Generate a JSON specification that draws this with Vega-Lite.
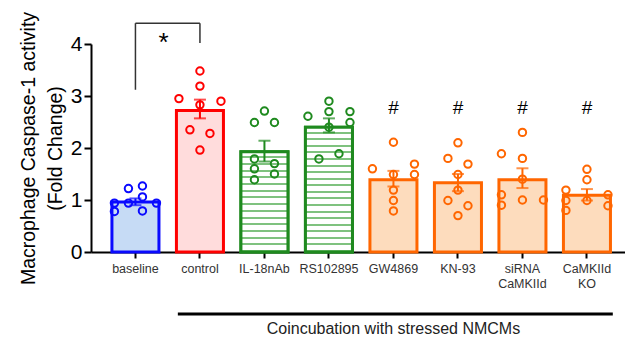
{
  "$schema": "https://vega.github.io/schema/vega-lite/v6.json",
  "width": 534,
  "height": 208,
  "autosize": {"type": "none"},
  "padding": {"left": 91, "top": 44, "right": 0, "bottom": 88},
  "config": {"font": "Liberation Sans", "view": {"stroke": null}},
  "datasets": {
    "bars": [
      {"g": "baseline", "set": "baseline", "mean": 0.96, "lo": 0.90, "hi": 1.03},
      {"g": "control", "set": "control", "mean": 2.72, "lo": 2.57, "hi": 2.93},
      {"g": "IL-18nAb", "set": "antagonist", "mean": 1.93, "lo": 1.74, "hi": 2.14},
      {"g": "RS102895", "set": "antagonist", "mean": 2.40, "lo": 2.30, "hi": 2.57},
      {"g": "GW4869", "set": "inhibitor", "mean": 1.39, "lo": 1.26, "hi": 1.56},
      {"g": "KN-93", "set": "inhibitor", "mean": 1.33, "lo": 1.17, "hi": 1.50},
      {"g": "siRNA|CaMKIId", "set": "inhibitor", "mean": 1.39, "lo": 1.23, "hi": 1.61},
      {"g": "CaMKIId|KO", "set": "inhibitor", "mean": 1.09, "lo": 0.99, "hi": 1.21}
    ],
    "pts": [
      {"g": "baseline", "set": "baseline", "v": 0.94, "dx": -21},
      {"g": "baseline", "set": "baseline", "v": 0.78, "dx": -21},
      {"g": "baseline", "set": "baseline", "v": 0.94, "dx": -7},
      {"g": "baseline", "set": "baseline", "v": 1.22, "dx": -7},
      {"g": "baseline", "set": "baseline", "v": 1.27, "dx": 7},
      {"g": "baseline", "set": "baseline", "v": 1.06, "dx": 7},
      {"g": "baseline", "set": "baseline", "v": 0.79, "dx": 7},
      {"g": "baseline", "set": "baseline", "v": 0.94, "dx": 21},
      {"g": "control", "set": "control", "v": 3.48, "dx": 0},
      {"g": "control", "set": "control", "v": 3.19, "dx": 0},
      {"g": "control", "set": "control", "v": 2.95, "dx": -21},
      {"g": "control", "set": "control", "v": 2.90, "dx": 21},
      {"g": "control", "set": "control", "v": 2.83, "dx": 0},
      {"g": "control", "set": "control", "v": 2.35, "dx": -10},
      {"g": "control", "set": "control", "v": 2.28, "dx": 10},
      {"g": "control", "set": "control", "v": 1.96, "dx": 0},
      {"g": "IL-18nAb", "set": "antagonist", "v": 2.71, "dx": 0},
      {"g": "IL-18nAb", "set": "antagonist", "v": 2.49, "dx": -10},
      {"g": "IL-18nAb", "set": "antagonist", "v": 2.49, "dx": 10},
      {"g": "IL-18nAb", "set": "antagonist", "v": 1.79, "dx": -10},
      {"g": "IL-18nAb", "set": "antagonist", "v": 1.70, "dx": 10},
      {"g": "IL-18nAb", "set": "antagonist", "v": 1.60, "dx": -10},
      {"g": "IL-18nAb", "set": "antagonist", "v": 1.50, "dx": 10},
      {"g": "IL-18nAb", "set": "antagonist", "v": 1.39, "dx": -10},
      {"g": "RS102895", "set": "antagonist", "v": 2.61, "dx": -21},
      {"g": "RS102895", "set": "antagonist", "v": 2.90, "dx": 0},
      {"g": "RS102895", "set": "antagonist", "v": 2.70, "dx": 0},
      {"g": "RS102895", "set": "antagonist", "v": 2.40, "dx": 0},
      {"g": "RS102895", "set": "antagonist", "v": 2.70, "dx": 21},
      {"g": "RS102895", "set": "antagonist", "v": 2.49, "dx": 21},
      {"g": "RS102895", "set": "antagonist", "v": 1.79, "dx": -10},
      {"g": "RS102895", "set": "antagonist", "v": 1.89, "dx": 10},
      {"g": "GW4869", "set": "inhibitor", "v": 2.11, "dx": 0},
      {"g": "GW4869", "set": "inhibitor", "v": 1.60, "dx": -21},
      {"g": "GW4869", "set": "inhibitor", "v": 1.69, "dx": 21},
      {"g": "GW4869", "set": "inhibitor", "v": 1.49, "dx": 21},
      {"g": "GW4869", "set": "inhibitor", "v": 1.49, "dx": 0},
      {"g": "GW4869", "set": "inhibitor", "v": 1.19, "dx": 0},
      {"g": "GW4869", "set": "inhibitor", "v": 0.99, "dx": 0},
      {"g": "GW4869", "set": "inhibitor", "v": 0.79, "dx": 0},
      {"g": "KN-93", "set": "inhibitor", "v": 2.10, "dx": 0},
      {"g": "KN-93", "set": "inhibitor", "v": 1.80, "dx": -10},
      {"g": "KN-93", "set": "inhibitor", "v": 1.69, "dx": 10},
      {"g": "KN-93", "set": "inhibitor", "v": 1.49, "dx": 0},
      {"g": "KN-93", "set": "inhibitor", "v": 1.19, "dx": 0},
      {"g": "KN-93", "set": "inhibitor", "v": 0.99, "dx": -10},
      {"g": "KN-93", "set": "inhibitor", "v": 0.89, "dx": 10},
      {"g": "KN-93", "set": "inhibitor", "v": 0.70, "dx": 0},
      {"g": "siRNA|CaMKIId", "set": "inhibitor", "v": 2.30, "dx": 0},
      {"g": "siRNA|CaMKIId", "set": "inhibitor", "v": 1.89, "dx": -21},
      {"g": "siRNA|CaMKIId", "set": "inhibitor", "v": 1.80, "dx": 0},
      {"g": "siRNA|CaMKIId", "set": "inhibitor", "v": 1.40, "dx": 0},
      {"g": "siRNA|CaMKIId", "set": "inhibitor", "v": 1.10, "dx": -21},
      {"g": "siRNA|CaMKIId", "set": "inhibitor", "v": 0.90, "dx": -21},
      {"g": "siRNA|CaMKIId", "set": "inhibitor", "v": 1.00, "dx": 0},
      {"g": "siRNA|CaMKIId", "set": "inhibitor", "v": 1.00, "dx": 21},
      {"g": "CaMKIId|KO", "set": "inhibitor", "v": 1.59, "dx": 0},
      {"g": "CaMKIId|KO", "set": "inhibitor", "v": 1.39, "dx": 0},
      {"g": "CaMKIId|KO", "set": "inhibitor", "v": 1.19, "dx": -21},
      {"g": "CaMKIId|KO", "set": "inhibitor", "v": 0.99, "dx": -21},
      {"g": "CaMKIId|KO", "set": "inhibitor", "v": 0.80, "dx": -21},
      {"g": "CaMKIId|KO", "set": "inhibitor", "v": 0.99, "dx": 0},
      {"g": "CaMKIId|KO", "set": "inhibitor", "v": 1.10, "dx": 21},
      {"g": "CaMKIId|KO", "set": "inhibitor", "v": 0.89, "dx": 21}
    ],
    "hash": [
      {"g": "GW4869", "y": 2.65, "t": "#"},
      {"g": "KN-93", "y": 2.65, "t": "#"},
      {"g": "siRNA|CaMKIId", "y": 2.65, "t": "#"},
      {"g": "CaMKIId|KO", "y": 2.65, "t": "#"}
    ],
    "bracket": [
      {"a": "baseline", "b": "baseline", "y": 3.12, "y2": 4.40},
      {"a": "baseline", "b": "control", "y": 4.40, "y2": 4.40},
      {"a": "control", "b": "control", "y": 4.02, "y2": 4.40}
    ],
    "star": [{"g": "baseline", "y": 3.87, "t": "*"}],
    "under": [{"a": "control", "b": "CaMKIId|KO", "y": -1.19}],
    "underText": [{"g": "GW4869", "y": -1.48, "t": "Coincubation with stressed NMCMs"}]
  },
  "layer": [
    {
      "data": {"name": "bars"},
      "mark": {"type": "bar", "strokeWidth": 3},
      "encoding": {
        "x": {
          "field": "g", "type": "nominal",
          "scale": {
            "type": "band",
            "domain": ["baseline", "control", "IL-18nAb", "RS102895", "GW4869", "KN-93", "siRNA|CaMKIId", "CaMKIId|KO"],
            "paddingInner": 0.271, "paddingOuter": 0.275, "align": 0.59
          },
          "axis": {
            "title": null, "labelAngle": 0, "labelFontSize": 12.5, "labelColor": "#333333",
            "labelExpr": "split(datum.label, '|')", "labelPadding": 4, "labelLineHeight": 15,
            "tickSize": 6, "tickWidth": 2, "tickColor": "#000000",
            "domainWidth": 2, "domainColor": "#000000", "labelBaseline": "top"
          }
        },
        "y": {
          "field": "mean", "type": "quantitative",
          "scale": {"domain": [0, 4], "nice": false, "zero": true},
          "axis": {
            "title": ["Macrophage Caspase-1 activity", "(Fold Change)"],
            "titleFontSize": 19.5, "titleFontWeight": "normal", "titleColor": "#000000",
            "titleLineHeight": 27, "titlePadding": 5,
            "values": [0, 1, 2, 3, 4], "format": "d", "grid": false,
            "labelFontSize": 21, "labelColor": "#000000", "labelPadding": 2,
            "tickSize": 7, "tickWidth": 2, "tickColor": "#000000",
            "domainWidth": 2, "domainColor": "#000000"
          }
        },
        "fill": {
          "field": "set", "type": "nominal", "legend": null,
          "scale": {"domain": ["baseline", "control", "antagonist", "inhibitor"], "range": ["#c6dbf5", "#ffdcdc", "#ffffff", "#fddcbd"]}
        },
        "stroke": {
          "field": "set", "type": "nominal", "legend": null,
          "scale": {"domain": ["baseline", "control", "antagonist", "inhibitor"], "range": ["#0a0aff", "#ff0000", "#1f8a1f", "#ff6600"]}
        }
      }
    },
    {
      "data": {"name": "bars"},
      "transform": [{"filter": "datum.g === 'IL-18nAb'"}],
      "mark": {
        "type": "bar", "strokeWidth": 3, "stroke": "#1f8a1f",
        "fill": {
          "gradient": "linear", "x1": 0, "y1": 0, "x2": 0, "y2": 1,
          "stops": [
            {"offset": 0, "color": "#ffffff"}, {"offset": 0.0467, "color": "#ffffff"}, {"offset": 0.0467, "color": "#7fc27f"}, {"offset": 0.0667, "color": "#7fc27f"},
            {"offset": 0.0667, "color": "#ffffff"}, {"offset": 0.1133, "color": "#ffffff"}, {"offset": 0.1133, "color": "#7fc27f"}, {"offset": 0.1333, "color": "#7fc27f"},
            {"offset": 0.1333, "color": "#ffffff"}, {"offset": 0.18, "color": "#ffffff"}, {"offset": 0.18, "color": "#7fc27f"}, {"offset": 0.2, "color": "#7fc27f"},
            {"offset": 0.2, "color": "#ffffff"}, {"offset": 0.2467, "color": "#ffffff"}, {"offset": 0.2467, "color": "#7fc27f"}, {"offset": 0.2667, "color": "#7fc27f"},
            {"offset": 0.2667, "color": "#ffffff"}, {"offset": 0.3133, "color": "#ffffff"}, {"offset": 0.3133, "color": "#7fc27f"}, {"offset": 0.3333, "color": "#7fc27f"},
            {"offset": 0.3333, "color": "#ffffff"}, {"offset": 0.38, "color": "#ffffff"}, {"offset": 0.38, "color": "#7fc27f"}, {"offset": 0.4, "color": "#7fc27f"},
            {"offset": 0.4, "color": "#ffffff"}, {"offset": 0.4467, "color": "#ffffff"}, {"offset": 0.4467, "color": "#7fc27f"}, {"offset": 0.4667, "color": "#7fc27f"},
            {"offset": 0.4667, "color": "#ffffff"}, {"offset": 0.5133, "color": "#ffffff"}, {"offset": 0.5133, "color": "#7fc27f"}, {"offset": 0.5333, "color": "#7fc27f"},
            {"offset": 0.5333, "color": "#ffffff"}, {"offset": 0.58, "color": "#ffffff"}, {"offset": 0.58, "color": "#7fc27f"}, {"offset": 0.6, "color": "#7fc27f"},
            {"offset": 0.6, "color": "#ffffff"}, {"offset": 0.6467, "color": "#ffffff"}, {"offset": 0.6467, "color": "#7fc27f"}, {"offset": 0.6667, "color": "#7fc27f"},
            {"offset": 0.6667, "color": "#ffffff"}, {"offset": 0.7133, "color": "#ffffff"}, {"offset": 0.7133, "color": "#7fc27f"}, {"offset": 0.7333, "color": "#7fc27f"},
            {"offset": 0.7333, "color": "#ffffff"}, {"offset": 0.78, "color": "#ffffff"}, {"offset": 0.78, "color": "#7fc27f"}, {"offset": 0.8, "color": "#7fc27f"},
            {"offset": 0.8, "color": "#ffffff"}, {"offset": 0.8467, "color": "#ffffff"}, {"offset": 0.8467, "color": "#7fc27f"}, {"offset": 0.8667, "color": "#7fc27f"},
            {"offset": 0.8667, "color": "#ffffff"}, {"offset": 0.9133, "color": "#ffffff"}, {"offset": 0.9133, "color": "#7fc27f"}, {"offset": 0.9333, "color": "#7fc27f"},
            {"offset": 0.9333, "color": "#ffffff"}, {"offset": 0.98, "color": "#ffffff"}, {"offset": 0.98, "color": "#7fc27f"}, {"offset": 1, "color": "#7fc27f"}
          ]
        }
      },
      "encoding": {
        "x": {"field": "g", "type": "nominal"},
        "y": {"field": "mean", "type": "quantitative"}
      }
    },
    {
      "data": {"name": "bars"},
      "transform": [{"filter": "datum.g === 'RS102895'"}],
      "mark": {
        "type": "bar", "strokeWidth": 3, "stroke": "#1f8a1f",
        "fill": {
          "gradient": "linear", "x1": 0, "y1": 0, "x2": 0, "y2": 1,
          "stops": [
            {"offset": 0, "color": "#ffffff"}, {"offset": 0.0368, "color": "#ffffff"}, {"offset": 0.0368, "color": "#7fc27f"}, {"offset": 0.0526, "color": "#7fc27f"},
            {"offset": 0.0526, "color": "#ffffff"}, {"offset": 0.0895, "color": "#ffffff"}, {"offset": 0.0895, "color": "#7fc27f"}, {"offset": 0.1053, "color": "#7fc27f"},
            {"offset": 0.1053, "color": "#ffffff"}, {"offset": 0.1421, "color": "#ffffff"}, {"offset": 0.1421, "color": "#7fc27f"}, {"offset": 0.1579, "color": "#7fc27f"},
            {"offset": 0.1579, "color": "#ffffff"}, {"offset": 0.1947, "color": "#ffffff"}, {"offset": 0.1947, "color": "#7fc27f"}, {"offset": 0.2105, "color": "#7fc27f"},
            {"offset": 0.2105, "color": "#ffffff"}, {"offset": 0.2474, "color": "#ffffff"}, {"offset": 0.2474, "color": "#7fc27f"}, {"offset": 0.2632, "color": "#7fc27f"},
            {"offset": 0.2632, "color": "#ffffff"}, {"offset": 0.3, "color": "#ffffff"}, {"offset": 0.3, "color": "#7fc27f"}, {"offset": 0.3158, "color": "#7fc27f"},
            {"offset": 0.3158, "color": "#ffffff"}, {"offset": 0.3526, "color": "#ffffff"}, {"offset": 0.3526, "color": "#7fc27f"}, {"offset": 0.3684, "color": "#7fc27f"},
            {"offset": 0.3684, "color": "#ffffff"}, {"offset": 0.4053, "color": "#ffffff"}, {"offset": 0.4053, "color": "#7fc27f"}, {"offset": 0.4211, "color": "#7fc27f"},
            {"offset": 0.4211, "color": "#ffffff"}, {"offset": 0.4579, "color": "#ffffff"}, {"offset": 0.4579, "color": "#7fc27f"}, {"offset": 0.4737, "color": "#7fc27f"},
            {"offset": 0.4737, "color": "#ffffff"}, {"offset": 0.5105, "color": "#ffffff"}, {"offset": 0.5105, "color": "#7fc27f"}, {"offset": 0.5263, "color": "#7fc27f"},
            {"offset": 0.5263, "color": "#ffffff"}, {"offset": 0.5632, "color": "#ffffff"}, {"offset": 0.5632, "color": "#7fc27f"}, {"offset": 0.5789, "color": "#7fc27f"},
            {"offset": 0.5789, "color": "#ffffff"}, {"offset": 0.6158, "color": "#ffffff"}, {"offset": 0.6158, "color": "#7fc27f"}, {"offset": 0.6316, "color": "#7fc27f"},
            {"offset": 0.6316, "color": "#ffffff"}, {"offset": 0.6684, "color": "#ffffff"}, {"offset": 0.6684, "color": "#7fc27f"}, {"offset": 0.6842, "color": "#7fc27f"},
            {"offset": 0.6842, "color": "#ffffff"}, {"offset": 0.7211, "color": "#ffffff"}, {"offset": 0.7211, "color": "#7fc27f"}, {"offset": 0.7368, "color": "#7fc27f"},
            {"offset": 0.7368, "color": "#ffffff"}, {"offset": 0.7737, "color": "#ffffff"}, {"offset": 0.7737, "color": "#7fc27f"}, {"offset": 0.7895, "color": "#7fc27f"},
            {"offset": 0.7895, "color": "#ffffff"}, {"offset": 0.8263, "color": "#ffffff"}, {"offset": 0.8263, "color": "#7fc27f"}, {"offset": 0.8421, "color": "#7fc27f"},
            {"offset": 0.8421, "color": "#ffffff"}, {"offset": 0.8789, "color": "#ffffff"}, {"offset": 0.8789, "color": "#7fc27f"}, {"offset": 0.8947, "color": "#7fc27f"},
            {"offset": 0.8947, "color": "#ffffff"}, {"offset": 0.9316, "color": "#ffffff"}, {"offset": 0.9316, "color": "#7fc27f"}, {"offset": 0.9474, "color": "#7fc27f"},
            {"offset": 0.9474, "color": "#ffffff"}, {"offset": 0.9842, "color": "#ffffff"}, {"offset": 0.9842, "color": "#7fc27f"}, {"offset": 1, "color": "#7fc27f"}
          ]
        }
      },
      "encoding": {
        "x": {"field": "g", "type": "nominal"},
        "y": {"field": "mean", "type": "quantitative"}
      }
    },
    {
      "data": {"name": "bars"},
      "mark": {"type": "rule", "strokeWidth": 2},
      "encoding": {
        "x": {"field": "g", "type": "nominal"},
        "y": {"field": "lo", "type": "quantitative"},
        "y2": {"field": "hi"},
        "stroke": {"field": "set", "type": "nominal", "legend": null}
      }
    },
    {
      "data": {"name": "bars"},
      "mark": {"type": "tick", "thickness": 2, "size": 12, "orient": "horizontal"},
      "encoding": {
        "x": {"field": "g", "type": "nominal"},
        "y": {"field": "hi", "type": "quantitative"},
        "color": {
          "field": "set", "type": "nominal", "legend": null,
          "scale": {"domain": ["baseline", "control", "antagonist", "inhibitor"], "range": ["#0a0aff", "#ff0000", "#1f8a1f", "#ff6600"]}
        }
      }
    },
    {
      "data": {"name": "bars"},
      "mark": {"type": "tick", "thickness": 2, "size": 12, "orient": "horizontal"},
      "encoding": {
        "x": {"field": "g", "type": "nominal"},
        "y": {"field": "lo", "type": "quantitative"},
        "color": {"field": "set", "type": "nominal", "legend": null}
      }
    },
    {
      "data": {"name": "pts"},
      "encoding": {
        "y": {"field": "v", "type": "quantitative"},
        "stroke": {"field": "set", "type": "nominal", "legend": null}
      },
      "layer": [
        {
          "transform": [{"filter": "datum.dx === -21"}],
          "mark": {"type": "point", "shape": "circle", "filled": false, "strokeWidth": 2, "size": 55, "opacity": 1},
          "encoding": {"x": {"field": "g", "type": "nominal", "bandPosition": 0.053}}
        },
        {
          "transform": [{"filter": "datum.dx === -10"}],
          "mark": {"type": "point", "shape": "circle", "filled": false, "strokeWidth": 2, "size": 55, "opacity": 1},
          "encoding": {"x": {"field": "g", "type": "nominal", "bandPosition": 0.287}}
        },
        {
          "transform": [{"filter": "datum.dx === -7"}],
          "mark": {"type": "point", "shape": "circle", "filled": false, "strokeWidth": 2, "size": 55, "opacity": 1},
          "encoding": {"x": {"field": "g", "type": "nominal", "bandPosition": 0.351}}
        },
        {
          "transform": [{"filter": "datum.dx === 0"}],
          "mark": {"type": "point", "shape": "circle", "filled": false, "strokeWidth": 2, "size": 55, "opacity": 1},
          "encoding": {"x": {"field": "g", "type": "nominal", "bandPosition": 0.5}}
        },
        {
          "transform": [{"filter": "datum.dx === 7"}],
          "mark": {"type": "point", "shape": "circle", "filled": false, "strokeWidth": 2, "size": 55, "opacity": 1},
          "encoding": {"x": {"field": "g", "type": "nominal", "bandPosition": 0.649}}
        },
        {
          "transform": [{"filter": "datum.dx === 10"}],
          "mark": {"type": "point", "shape": "circle", "filled": false, "strokeWidth": 2, "size": 55, "opacity": 1},
          "encoding": {"x": {"field": "g", "type": "nominal", "bandPosition": 0.713}}
        },
        {
          "transform": [{"filter": "datum.dx === 21"}],
          "mark": {"type": "point", "shape": "circle", "filled": false, "strokeWidth": 2, "size": 55, "opacity": 1},
          "encoding": {"x": {"field": "g", "type": "nominal", "bandPosition": 0.947}}
        }
      ]
    },
    {
      "data": {"name": "hash"},
      "mark": {"type": "text", "fontSize": 19, "color": "#000000", "baseline": "alphabetic", "align": "center"},
      "encoding": {
        "x": {"field": "g", "type": "nominal"},
        "y": {"field": "y", "type": "quantitative"},
        "text": {"field": "t"}
      }
    },
    {
      "data": {"name": "bracket"},
      "mark": {"type": "rule", "strokeWidth": 1.5, "color": "#333333"},
      "encoding": {
        "x": {"field": "a", "type": "nominal"},
        "x2": {"field": "b"},
        "y": {"field": "y", "type": "quantitative"},
        "y2": {"field": "y2"}
      }
    },
    {
      "data": {"name": "star"},
      "mark": {"type": "text", "fontSize": 26, "color": "#000000", "baseline": "alphabetic", "align": "center"},
      "encoding": {
        "x": {"field": "g", "type": "nominal", "bandPosition": 1.1},
        "y": {"field": "y", "type": "quantitative"},
        "text": {"field": "t"}
      }
    },
    {
      "data": {"name": "under"},
      "mark": {"type": "rule", "strokeWidth": 3, "color": "#000000"},
      "encoding": {
        "x": {"field": "a", "type": "nominal", "bandPosition": 0.03},
        "x2": {"field": "b", "bandPosition": 1.05},
        "y": {"field": "y", "type": "quantitative"}
      }
    },
    {
      "data": {"name": "underText"},
      "mark": {"type": "text", "fontSize": 16, "color": "#222222", "baseline": "middle", "align": "center"},
      "encoding": {
        "x": {"field": "g", "type": "nominal"},
        "y": {"field": "y", "type": "quantitative"},
        "text": {"field": "t"}
      }
    }
  ]
}
